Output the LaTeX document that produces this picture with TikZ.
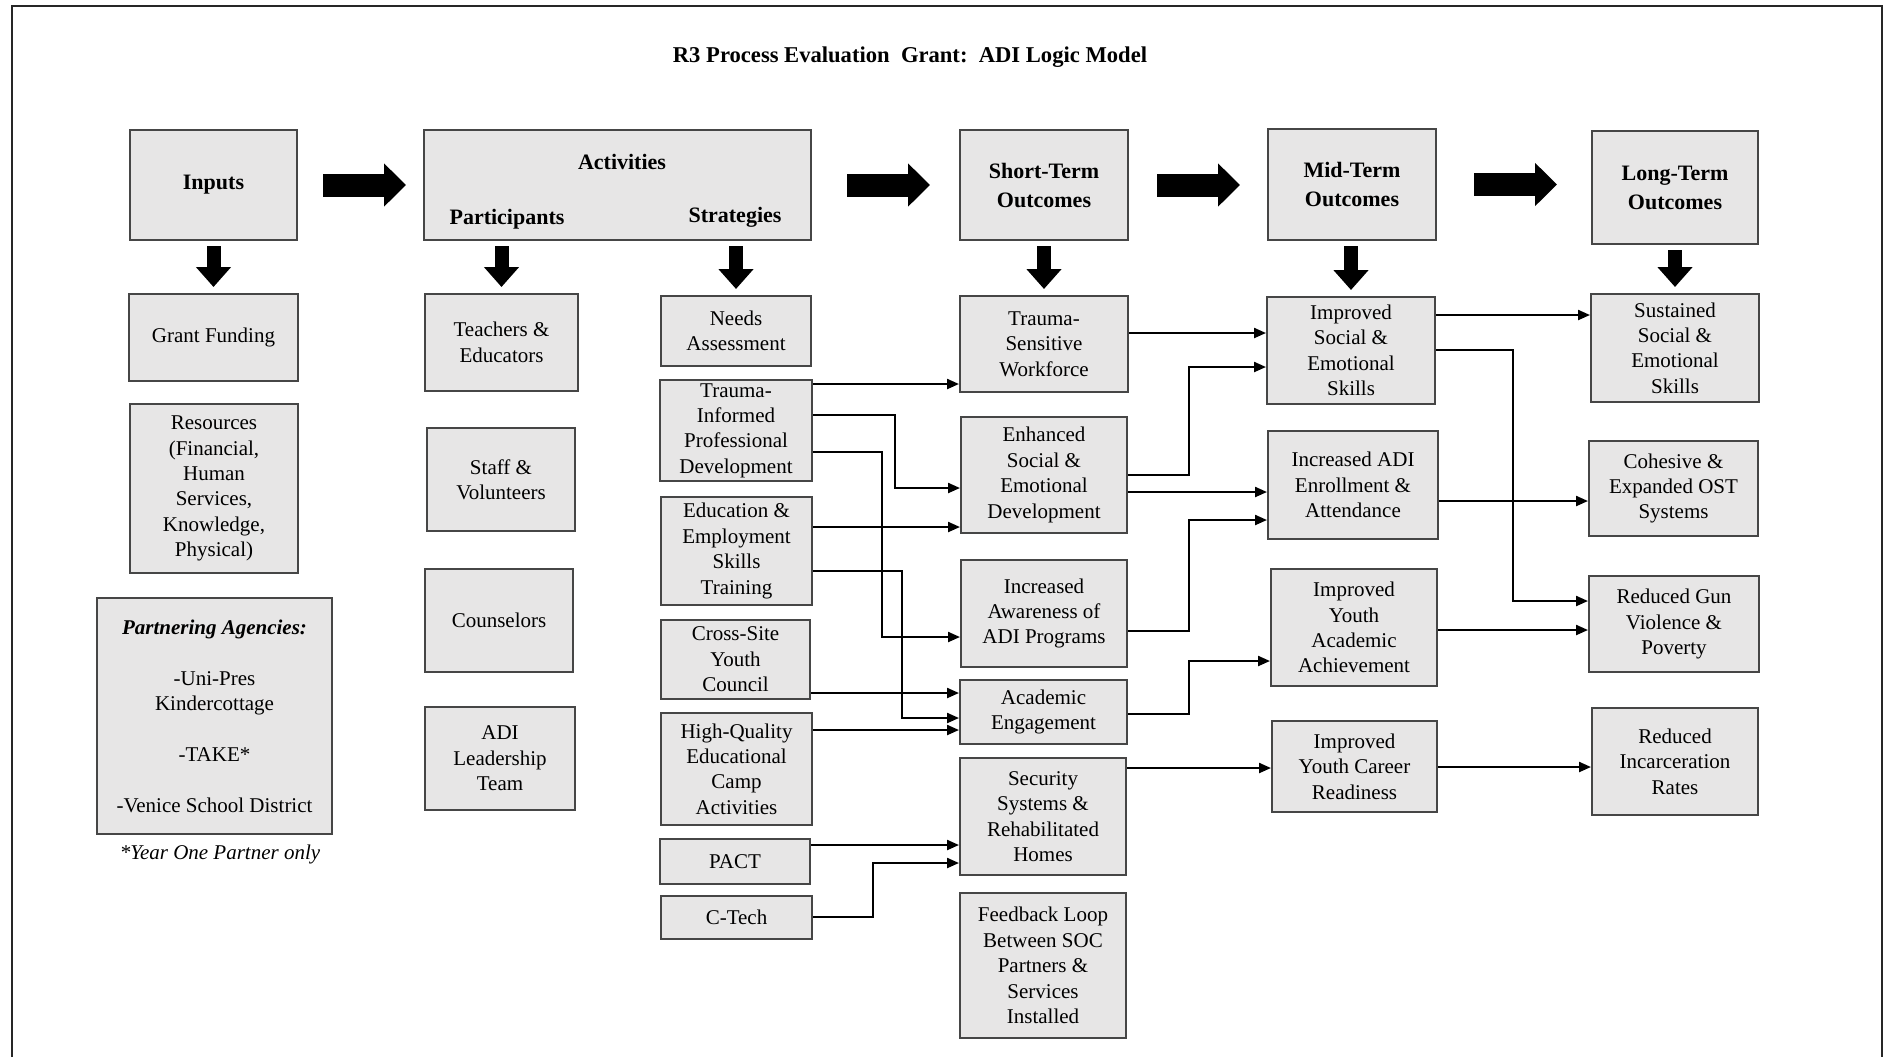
\documentclass[tikz,border=0pt]{standalone}
\usepackage{fontspec}
\setmainfont{Liberation Serif}
\usetikzlibrary{positioning,arrows.meta}
\definecolor{boxfill}{RGB}{231,230,230}
\definecolor{boxline}{RGB}{70,70,70}

\begin{document}
\begin{tikzpicture}[
x=0.5pt, y=-0.5pt,
every node/.style={font=\fontsize{10.5}{12.7}\selectfont},
box/.style={draw=boxline, fill=boxfill, line width=1pt, align=center, inner sep=0pt},
head/.style={box, font=\fontsize{11}{14.5}\selectfont\bfseries},
hdtext/.style={font=\fontsize{11}{14.5}\selectfont\bfseries},
link/.style={line width=1.1pt, -{Triangle[length=6pt,width=5pt]}},
bigarrow/.style={line width=11.5pt, -{Triangle[length=11pt,width=21pt]}},
downarrow/.style={line width=7pt, -{Triangle[length=10pt,width=17pt]}, shorten <=2.5pt, shorten >=3pt}
]
\useasboundingbox (0,0) rectangle (1884,1057);
\draw[line width=1pt, draw=black!85] (12,1057) -- (12,6) -- (1882,6) -- (1882,1057);

\node[font=\fontsize{11.3}{14}\selectfont\bfseries] (title) at (910,57) {R3 Process Evaluation\ \ Grant:\ \ ADI Logic Model};

\node[head, minimum width=83.5pt, minimum height=55pt] (inputs) at (213.5,185) {Inputs};
\node[head, minimum width=193.5pt, minimum height=55pt] (activities) at (617.5,185) {};
\node[hdtext] (acttitle) at (622,162) {Activities};
\node[hdtext] (parttitle) at (507,219) {Participants};
\node[hdtext] (strattitle) at (735,217) {Strategies};
\node[head, minimum width=84pt, minimum height=55pt] (short) at (1044,185) {Short-Term\\Outcomes};
\node[head, minimum width=84pt, minimum height=55.5pt] (mid) at (1352,184.5) {Mid-Term\\Outcomes};
\node[head, minimum width=83pt, minimum height=56.5pt] (long) at (1675,187.5) {Long-Term\\Outcomes};

\node[box, minimum width=84.5pt, minimum height=43.5pt] (gf) at (213.5,337.5) {Grant Funding};
\node[box, minimum width=84pt, minimum height=84.5pt] (res) at (214,488.5) {Resources\\(Financial,\\Human\\Services,\\Knowledge,\\Physical)};
\node[box, minimum width=117.5pt, minimum height=118pt] (partners) at (214.5,716) {\textbf{\textit{Partnering Agencies:}}\\[12.7pt]-Uni-Pres\\Kindercottage\\[12.7pt]-TAKE*\\[12.7pt]-Venice School District};
\node[font=\fontsize{10.5}{12.7}\selectfont\itshape] (yearone) at (220,854) {*Year One Partner only};

\node[box, minimum width=76.5pt, minimum height=48.5pt] (teach) at (501.5,342.5) {Teachers \&\\Educators};
\node[box, minimum width=74pt, minimum height=51.5pt] (staff) at (501,479.5) {Staff \&\\Volunteers};
\node[box, minimum width=74pt, minimum height=51.5pt] (couns) at (499,620.5) {Counselors};
\node[box, minimum width=75pt, minimum height=51.5pt] (lead) at (500,758.5) {ADI\\Leadership\\Team};

\node[box, minimum width=75pt, minimum height=35pt] (needs) at (736,331) {Needs\\Assessment};
\node[box, minimum width=76pt, minimum height=50.5pt] (tipd) at (736,430.5) {Trauma-\\Informed\\Professional\\Development};
\node[box, minimum width=75.5pt, minimum height=54pt] (edu) at (736.5,551) {Education \&\\Employment\\Skills\\Training};
\node[box, minimum width=74.5pt, minimum height=39.5pt] (council) at (735.5,659.5) {Cross-Site\\Youth\\Council};
\node[box, minimum width=75.5pt, minimum height=56pt] (camp) at (736.5,769) {High-Quality\\Educational\\Camp\\Activities};
\node[box, minimum width=75pt, minimum height=22.5pt] (pact) at (735,861.5) {PACT};
\node[box, minimum width=75.5pt, minimum height=21.5pt] (ctech) at (736.5,917.5) {C-Tech};

\node[box, minimum width=84pt, minimum height=48pt] (work) at (1044,344) {Trauma-\\Sensitive\\Workforce};
\node[box, minimum width=83pt, minimum height=58pt] (enh) at (1044,475) {Enhanced\\Social \&\\Emotional\\Development};
\node[box, minimum width=83pt, minimum height=53.5pt] (aware) at (1044,613.5) {Increased\\Awareness of\\ADI Programs};
\node[box, minimum width=83.5pt, minimum height=32pt] (acad) at (1043.5,712) {Academic\\Engagement};
\node[box, minimum width=83pt, minimum height=58.5pt] (secur) at (1043,816.5) {Security\\Systems \&\\Rehabilitated\\Homes};
\node[box, minimum width=83pt, minimum height=72.5pt] (feed) at (1043,965.5) {Feedback Loop\\Between SOC\\Partners \&\\Services\\Installed};

\node[box, minimum width=84pt, minimum height=53.5pt] (iss) at (1351,350.5) {Improved\\Social \&\\Emotional\\Skills};
\node[box, minimum width=85pt, minimum height=54pt] (enroll) at (1353,485) {Increased ADI\\Enrollment \&\\Attendance};
\node[box, minimum width=83pt, minimum height=58.5pt] (achieve) at (1354,627.5) {Improved\\Youth\\Academic\\Achievement};
\node[box, minimum width=82.5pt, minimum height=45.5pt] (career) at (1354.5,766.5) {Improved\\Youth Career\\Readiness};

\node[box, minimum width=84pt, minimum height=54pt] (sustain) at (1675,348) {Sustained\\Social \&\\Emotional\\Skills};
\node[box, minimum width=84.5pt, minimum height=47.5pt] (ost) at (1673.5,488.5) {Cohesive \&\\Expanded OST\\Systems};
\node[box, minimum width=85pt, minimum height=48pt] (gun) at (1674,624) {Reduced Gun\\Violence \&\\Poverty};
\node[box, minimum width=83pt, minimum height=53.5pt] (incarc) at (1675,761.5) {Reduced\\Incarceration\\Rates};

\draw[bigarrow, shorten <=12.5pt, shorten >=8.5pt] (inputs.east) -- (activities.west);
\draw[bigarrow, shorten <=17.5pt, shorten >=14.5pt] (activities.east) -- (short.west);
\draw[bigarrow, shorten <=14pt, shorten >=13.5pt] (short.east) -- (short.east -| mid.west);
\draw[bigarrow, shorten <=18.5pt, shorten >=17pt] (mid.east) -- (mid.east -| long.west);

\draw[downarrow] (inputs.south -| gf.north) -- (gf.north);
\draw[downarrow] (activities.south -| teach.north) -- (teach.north);
\draw[downarrow] (activities.south -| needs.north) -- (needs.north);
\draw[downarrow] (short.south -| work.north) -- (work.north);
\draw[downarrow] (mid.south -| iss.north) -- (iss.north);
\draw[downarrow] (long.south -| sustain.north) -- (sustain.north);

\draw[link] (tipd.east |- 0,384) -- (work.west |- 0,384);
\draw[link] (tipd.east |- 0,415) -- ++(82,0) |- (enh.west |- 0,488);
\draw[link] (tipd.east |- 0,452) -- ++(69,0) |- (aware.west |- 0,637);
\draw[link] (edu.east |- 0,527) -- (enh.west |- 0,527);
\draw[link] (edu.east |- 0,571) -- ++(89,0) |- (acad.west |- 0,718);
\draw[link] (council.east |- 0,693) -- (acad.west |- 0,693);
\draw[link] (camp.east |- 0,730) -- (acad.west |- 0,730);
\draw[link] (pact.east |- 0,845) -- (secur.west |- 0,845);
\draw[link] (ctech.east |- 0,917) -- ++(60,0) |- (secur.west |- 0,863);

\draw[link] (work.east |- 0,333) -- (iss.west |- 0,333);
\draw[link] (enh.east |- 0,475) -- ++(61,0) |- (iss.west |- 0,367);
\draw[link] (enh.east |- 0,492) -- (enroll.west |- 0,492);
\draw[link] (aware.east |- 0,631) -- ++(61,0) |- (enroll.west |- 0,520);
\draw[link] (acad.east |- 0,714) -- ++(61,0) |- (achieve.west |- 0,661);
\draw[link] (secur.east |- 0,768) -- (career.west |- 0,768);

\draw[link] (iss.east |- 0,315) -- (sustain.west |- 0,315);
\draw[link] (iss.east |- 0,350) -- ++(77,0) |- (gun.west |- 0,601);
\draw[link] (enroll.east |- 0,501) -- (ost.west |- 0,501);
\draw[link] (achieve.east |- 0,630) -- (gun.west |- 0,630);
\draw[link] (career.east |- 0,767) -- (incarc.west |- 0,767);
\end{tikzpicture}
\end{document}
